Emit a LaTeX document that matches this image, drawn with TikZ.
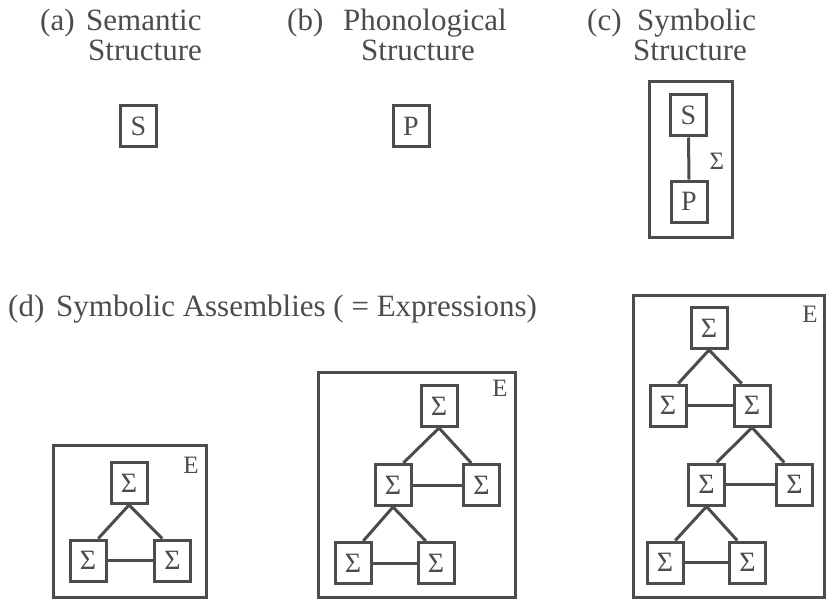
\documentclass[tikz,border=0pt]{standalone}
\usepackage{fontspec}
\setmainfont{Liberation Serif}
\definecolor{ink}{HTML}{4C4C4C}
\begin{document}
\begin{tikzpicture}[x=1pt,y=-1pt,
  bx/.style={draw=ink, line width=3pt, minimum width=36pt, minimum height=41pt, inner sep=0pt, text=ink, font=\fontsize{28}{28}\selectfont},
  frame/.style={draw=ink, line width=3pt},
  conn/.style={draw=ink, line width=3pt},
  head/.style={text=ink, inner sep=0pt, anchor=base west, font=\fontsize{31}{31}\selectfont},
  lab/.style={text=ink, inner sep=0pt, font=\fontsize{25}{25}\selectfont}]
\useasboundingbox (0,0) rectangle (827,599);
% headers
\node[head] (ha0) at (40,31) {(a)};
\node[head] (ha1) at (86,31) {Semantic};
\node[head] (ha2) at (88,61) {Structure};
\node[head] (hb0) at (287,31) {(b)};
\node[head] (hb1) at (343,31) {Phonological};
\node[head] (hb2) at (361,61) {Structure};
\node[head] (hc0) at (587,31) {(c)};
\node[head] (hc1) at (637,31) {Symbolic};
\node[head] (hc2) at (633,61) {Structure};
\node[head] (hd0) at (8,316) {(d)};
\node[head] (hd1) at (56,316) {Symbolic Assemblies ( = Expressions)};
% (a), (b)
\node[bx] (aS) at (138.5,126.5) {S};
\node[bx] (bP) at (411,126.5) {P};
% (c)
\draw[frame] (649,82) rectangle (732,237);
\node[bx] (cS) at (688.5,115.5) {S};
\node[bx] (cP) at (689,201.5) {P};
\draw[conn] (cS.south) -- (cP.north);
\node[lab] (cL) at (717,161) {Σ};
% (d) panel 1
\draw[frame] (53,445) rectangle (206,597);
\node[lab] (e1) at (191,465) {E};
\node[bx] (p1t) at (129,483) {Σ};
\node[bx] (p1l) at (88,560.5) {Σ};
\node[bx] (p1r) at (172.5,560.5) {Σ};
\draw[conn] (p1l.65) -- (p1t.south) -- (p1r.115);
\draw[conn] (p1l) -- (p1r);
% (d) panel 2
\draw[frame] (318,372) rectangle (515,597);
\node[lab] (e2) at (500,388) {E};
\node[bx] (p2t) at (439,406) {Σ};
\node[bx] (p2a) at (393,485) {Σ};
\node[bx] (p2b) at (481.5,485) {Σ};
\node[bx] (p2c) at (353,563) {Σ};
\node[bx] (p2d) at (436,563) {Σ};
\draw[conn] (p2a.65) -- (p2t.south) -- (p2b.115);
\draw[conn] (p2a) -- (p2b);
\draw[conn] (p2c.65) -- (p2a.south) -- (p2d.115);
\draw[conn] (p2c) -- (p2d);
% (d) panel 3
\draw[frame] (633,295) rectangle (824,597);
\node[lab] (e3) at (810,314) {E};
\node[bx] (p3t) at (709,328) {Σ};
\node[bx] (p3a) at (668,405.5) {Σ};
\node[bx] (p3b) at (752,405.5) {Σ};
\node[bx] (p3c) at (706.5,484.5) {Σ};
\node[bx] (p3d) at (794.5,484.5) {Σ};
\node[bx] (p3e) at (665,562.5) {Σ};
\node[bx] (p3f) at (747.5,562.5) {Σ};
\draw[conn] (p3a.65) -- (p3t.south) -- (p3b.115);
\draw[conn] (p3a) -- (p3b);
\draw[conn] (p3c.65) -- (p3b.south) -- (p3d.115);
\draw[conn] (p3c) -- (p3d);
\draw[conn] (p3e.65) -- (p3c.south) -- (p3f.115);
\draw[conn] (p3e) -- (p3f);
\end{tikzpicture}
\end{document}
